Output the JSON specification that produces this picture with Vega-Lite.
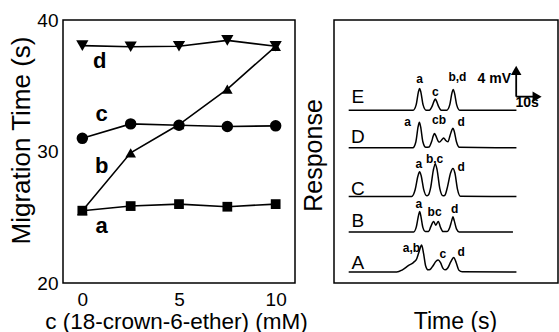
{
  "$schema": "https://vega.github.io/schema/vega-lite/v6.json",
  "autosize": {"type": "none"},
  "padding": {"left": 63, "top": 20, "right": 496, "bottom": 312},
  "background": "white",
  "bounds": "flush",
  "spacing": 39,
  "resolve": {"scale": {"shape": "independent", "size": "independent"}},
  "config": {
    "font": "Liberation Sans",
    "view": {"stroke": "black", "strokeWidth": 1.5},
    "axis": {
      "labelColor": "black", "titleColor": "black",
      "labelFont": "Liberation Sans", "titleFont": "Liberation Sans",
      "grid": false, "domain": false, "tickColor": "black",
      "titleFontWeight": "normal"
    }
  },
  "hconcat": [
    {
      "width": 232,
      "height": 263,
      "data": {"values": [
        {"series": "a", "conc": 0, "time": 25.5},
        {"series": "a", "conc": 2.5, "time": 25.85},
        {"series": "a", "conc": 5, "time": 26.0},
        {"series": "a", "conc": 7.5, "time": 25.8},
        {"series": "a", "conc": 10, "time": 26.0},
        {"series": "b", "conc": 0, "time": 25.5},
        {"series": "b", "conc": 2.5, "time": 29.9},
        {"series": "b", "conc": 5, "time": 32.05},
        {"series": "b", "conc": 7.5, "time": 34.75},
        {"series": "b", "conc": 10, "time": 38.0},
        {"series": "c", "conc": 0, "time": 31.0},
        {"series": "c", "conc": 2.5, "time": 32.1},
        {"series": "c", "conc": 5, "time": 32.0},
        {"series": "c", "conc": 7.5, "time": 31.9},
        {"series": "c", "conc": 10, "time": 31.95},
        {"series": "d", "conc": 0, "time": 38.05},
        {"series": "d", "conc": 2.5, "time": 37.97},
        {"series": "d", "conc": 5, "time": 38.0},
        {"series": "d", "conc": 7.5, "time": 38.45},
        {"series": "d", "conc": 10, "time": 38.0}
      ]},
      "layer": [
        {
          "mark": {"type": "line", "color": "black", "strokeWidth": 1.6},
          "encoding": {
            "x": {"field": "conc", "type": "quantitative", "scale": {"domain": [-1, 11]},
              "axis": {"title": "c (18-crown-6-ether) (mM)", "values": [0, 2.5, 5, 7.5, 10],
                "format": "d", "labelExpr": "datum.value % 5 === 0 ? datum.label : ''",
                "labelFontSize": 19, "labelPadding": 7, "tickSize": 0,
                "titleFontSize": 22.5, "titleX": 113, "titleY": 27, "titleBaseline": "top"}},
            "y": {"field": "time", "type": "quantitative", "scale": {"domain": [20, 40]},
              "axis": {"title": "Migration Time (s)", "values": [20, 25, 30, 35, 40],
                "labelExpr": "datum.value % 10 === 0 ? datum.label : ''",
                "labelFontSize": 19, "labelPadding": 5, "tickSize": 0,
                "titleFontSize": 26, "titleX": -29, "titleY": 120}},
            "detail": {"field": "series"}
          }
        },
        {
          "mark": {"type": "point", "filled": true, "color": "black", "opacity": 1},
          "encoding": {
            "x": {"field": "conc", "type": "quantitative"},
            "y": {"field": "time", "type": "quantitative"},
            "shape": {"field": "series", "type": "nominal",
              "scale": {"domain": ["a", "b", "c", "d"], "range": ["square", "triangle-up", "circle", "triangle-down"]},
              "legend": null},
            "size": {"field": "series", "type": "nominal",
              "scale": {"domain": ["a", "b", "c", "d"], "range": [95, 150, 90, 135]},
              "legend": null}
          }
        },
        {
          "data": {"values": [
            {"label": "a", "conc": 1.0, "time": 24.3},
            {"label": "b", "conc": 1.0, "time": 28.9},
            {"label": "c", "conc": 1.0, "time": 32.85},
            {"label": "d", "conc": 0.9, "time": 36.9}
          ]},
          "mark": {"type": "text", "fontSize": 22, "fontWeight": "bold", "color": "black", "baseline": "middle", "align": "center"},
          "encoding": {
            "x": {"field": "conc", "type": "quantitative"},
            "y": {"field": "time", "type": "quantitative"},
            "text": {"field": "label"}
          }
        }
      ]
    },
    {
      "width": 224,
      "height": 263,
      "layer": [
        {
          "data": {"values": [
            {"trace": "E", "t": 5.9, "r": 23},
            {"trace": "E", "t": 31.8, "r": 23},
            {"trace": "E", "t": 33.0, "r": 23.7},
            {"trace": "E", "t": 33.9, "r": 25.4},
            {"trace": "E", "t": 34.4, "r": 25.9},
            {"trace": "E", "t": 34.9, "r": 25.4},
            {"trace": "E", "t": 35.8, "r": 23.7},
            {"trace": "E", "t": 37.0, "r": 23.0},
            {"trace": "E", "t": 38.3, "r": 23.0},
            {"trace": "E", "t": 39.4, "r": 23.5},
            {"trace": "E", "t": 40.2, "r": 24.2},
            {"trace": "E", "t": 40.7, "r": 24.5},
            {"trace": "E", "t": 41.2, "r": 24.2},
            {"trace": "E", "t": 42.0, "r": 23.5},
            {"trace": "E", "t": 43.1, "r": 23.0},
            {"trace": "E", "t": 45.3, "r": 23.0},
            {"trace": "E", "t": 46.5, "r": 23.7},
            {"trace": "E", "t": 47.4, "r": 25.3},
            {"trace": "E", "t": 47.9, "r": 25.75},
            {"trace": "E", "t": 48.4, "r": 25.3},
            {"trace": "E", "t": 49.3, "r": 23.7},
            {"trace": "E", "t": 50.5, "r": 23.0},
            {"trace": "E", "t": 73.3, "r": 23.0},
            {"trace": "D", "t": 5.9, "r": 18},
            {"trace": "D", "t": 31.7, "r": 18},
            {"trace": "D", "t": 32.9, "r": 18.8},
            {"trace": "D", "t": 33.8, "r": 20.8},
            {"trace": "D", "t": 34.3, "r": 21.4},
            {"trace": "D", "t": 34.8, "r": 20.8},
            {"trace": "D", "t": 35.7, "r": 18.8},
            {"trace": "D", "t": 36.9, "r": 18.05},
            {"trace": "D", "t": 38.2, "r": 18.1},
            {"trace": "D", "t": 39.3, "r": 18.9},
            {"trace": "D", "t": 39.9, "r": 19.6},
            {"trace": "D", "t": 40.4, "r": 19.9},
            {"trace": "D", "t": 40.9, "r": 19.6},
            {"trace": "D", "t": 42.0, "r": 18.8},
            {"trace": "D", "t": 42.4, "r": 18.75},
            {"trace": "D", "t": 43.4, "r": 19.1},
            {"trace": "D", "t": 44.1, "r": 19.3},
            {"trace": "D", "t": 44.8, "r": 19.0},
            {"trace": "D", "t": 45.8, "r": 18.8},
            {"trace": "D", "t": 46.6, "r": 19.6},
            {"trace": "D", "t": 47.3, "r": 20.3},
            {"trace": "D", "t": 47.8, "r": 20.6},
            {"trace": "D", "t": 48.3, "r": 20.2},
            {"trace": "D", "t": 49.2, "r": 18.8},
            {"trace": "D", "t": 50.4, "r": 18.05},
            {"trace": "D", "t": 73.3, "r": 18},
            {"trace": "C", "t": 5.9, "r": 11.5},
            {"trace": "C", "t": 31.2, "r": 11.5},
            {"trace": "C", "t": 32.6, "r": 12.4},
            {"trace": "C", "t": 33.7, "r": 14.2},
            {"trace": "C", "t": 34.4, "r": 14.8},
            {"trace": "C", "t": 35.0, "r": 14.3},
            {"trace": "C", "t": 36.0, "r": 12.5},
            {"trace": "C", "t": 37.3, "r": 11.6},
            {"trace": "C", "t": 37.9, "r": 11.7},
            {"trace": "C", "t": 38.9, "r": 12.8},
            {"trace": "C", "t": 39.9, "r": 15.0},
            {"trace": "C", "t": 40.7, "r": 15.85},
            {"trace": "C", "t": 41.4, "r": 15.1},
            {"trace": "C", "t": 42.5, "r": 12.6},
            {"trace": "C", "t": 43.8, "r": 11.6},
            {"trace": "C", "t": 44.6, "r": 11.7},
            {"trace": "C", "t": 45.6, "r": 12.8},
            {"trace": "C", "t": 46.8, "r": 14.6},
            {"trace": "C", "t": 47.8, "r": 15.25},
            {"trace": "C", "t": 48.6, "r": 14.6},
            {"trace": "C", "t": 49.6, "r": 12.5},
            {"trace": "C", "t": 50.8, "r": 11.55},
            {"trace": "C", "t": 73.3, "r": 11.5},
            {"trace": "B", "t": 5.9, "r": 6.8},
            {"trace": "B", "t": 32.0, "r": 6.8},
            {"trace": "B", "t": 33.1, "r": 7.5},
            {"trace": "B", "t": 33.9, "r": 8.9},
            {"trace": "B", "t": 34.4, "r": 9.5},
            {"trace": "B", "t": 34.9, "r": 8.9},
            {"trace": "B", "t": 35.7, "r": 7.4},
            {"trace": "B", "t": 36.7, "r": 6.85},
            {"trace": "B", "t": 38.0, "r": 6.85},
            {"trace": "B", "t": 38.9, "r": 7.5},
            {"trace": "B", "t": 40.0, "r": 8.2},
            {"trace": "B", "t": 40.9, "r": 7.7},
            {"trace": "B", "t": 41.9, "r": 8.2},
            {"trace": "B", "t": 42.8, "r": 7.4},
            {"trace": "B", "t": 43.8, "r": 6.85},
            {"trace": "B", "t": 45.4, "r": 6.85},
            {"trace": "B", "t": 46.5, "r": 7.4},
            {"trace": "B", "t": 47.3, "r": 8.3},
            {"trace": "B", "t": 47.8, "r": 8.8},
            {"trace": "B", "t": 48.3, "r": 8.3},
            {"trace": "B", "t": 49.2, "r": 7.2},
            {"trace": "B", "t": 50.3, "r": 6.8},
            {"trace": "B", "t": 71.9, "r": 6.8},
            {"trace": "A", "t": 5.9, "r": 1.45},
            {"trace": "A", "t": 25.2, "r": 1.45},
            {"trace": "A", "t": 27.5, "r": 1.75},
            {"trace": "A", "t": 30.0, "r": 2.35},
            {"trace": "A", "t": 32.0, "r": 2.75},
            {"trace": "A", "t": 33.2, "r": 3.2},
            {"trace": "A", "t": 34.3, "r": 4.3},
            {"trace": "A", "t": 35.2, "r": 5.05},
            {"trace": "A", "t": 36.0, "r": 3.9},
            {"trace": "A", "t": 36.8, "r": 2.3},
            {"trace": "A", "t": 37.8, "r": 1.75},
            {"trace": "A", "t": 38.6, "r": 1.8},
            {"trace": "A", "t": 39.8, "r": 2.3},
            {"trace": "A", "t": 41.0, "r": 2.9},
            {"trace": "A", "t": 41.9, "r": 3.05},
            {"trace": "A", "t": 42.8, "r": 2.7},
            {"trace": "A", "t": 43.8, "r": 1.95},
            {"trace": "A", "t": 44.6, "r": 1.75},
            {"trace": "A", "t": 45.7, "r": 2.0},
            {"trace": "A", "t": 46.9, "r": 2.8},
            {"trace": "A", "t": 48.1, "r": 3.4},
            {"trace": "A", "t": 49.1, "r": 2.7},
            {"trace": "A", "t": 50.2, "r": 1.7},
            {"trace": "A", "t": 51.5, "r": 1.5},
            {"trace": "A", "t": 73.3, "r": 1.45}
          ]},
          "mark": {"type": "line", "color": "black", "strokeWidth": 1.5, "interpolate": "monotone"},
          "encoding": {
            "x": {"field": "t", "type": "quantitative", "scale": {"domain": [0, 83]},
              "axis": {"title": "Time (s)", "labels": false, "ticks": false,
                "titleFontSize": 23, "titleX": 121, "titleY": 27, "titleBaseline": "top"}},
            "y": {"field": "r", "type": "quantitative", "scale": {"domain": [0, 30.94]},
              "axis": {"title": "Response", "labels": false, "ticks": false,
                "titleFontSize": 25, "titleX": -8, "titleY": 135}},
            "detail": {"field": "trace"}
          }
        },
        {
          "data": {"values": [
            {"label": "E", "t": 9.6, "r": 24.8},
            {"label": "D", "t": 9.6, "r": 19.4},
            {"label": "C", "t": 9.6, "r": 12.5},
            {"label": "B", "t": 9.6, "r": 8.2},
            {"label": "A", "t": 9.6, "r": 2.7}
          ]},
          "mark": {"type": "text", "fontSize": 19, "color": "black", "baseline": "middle", "align": "center"},
          "encoding": {
            "x": {"field": "t", "type": "quantitative"},
            "y": {"field": "r", "type": "quantitative"},
            "text": {"field": "label"}
          }
        },
        {
          "data": {"values": [
            {"label": "a", "t": 34.4, "r": 27.1},
            {"label": "c", "t": 40.7, "r": 25.4},
            {"label": "b,d", "t": 49.6, "r": 27.4},
            {"label": "a", "t": 29.6, "r": 21.4},
            {"label": "cb", "t": 42.2, "r": 21.7},
            {"label": "d", "t": 51.1, "r": 21.4},
            {"label": "a", "t": 34.1, "r": 15.9},
            {"label": "b,c", "t": 40.4, "r": 16.5},
            {"label": "d", "t": 51.1, "r": 15.4},
            {"label": "a", "t": 34.1, "r": 10.5},
            {"label": "bc", "t": 40.4, "r": 9.4},
            {"label": "d", "t": 48.5, "r": 9.8},
            {"label": "a,b", "t": 31.1, "r": 4.7},
            {"label": "c", "t": 43.7, "r": 3.9},
            {"label": "d", "t": 51.1, "r": 4.1}
          ]},
          "mark": {"type": "text", "fontSize": 12, "fontWeight": "bold", "color": "black", "baseline": "middle", "align": "center"},
          "encoding": {
            "x": {"field": "t", "type": "quantitative"},
            "y": {"field": "r", "type": "quantitative"},
            "text": {"field": "label"}
          }
        },
        {
          "data": {"values": [
            {"t": 73.2, "t2": 73.2, "r": 24.8, "r2": 28.2},
            {"t": 73.2, "t2": 81.0, "r": 24.8, "r2": 24.8}
          ]},
          "mark": {"type": "rule", "color": "black", "strokeWidth": 1.8, "clip": false},
          "encoding": {
            "x": {"field": "t", "type": "quantitative"},
            "x2": {"field": "t2"},
            "y": {"field": "r", "type": "quantitative"},
            "y2": {"field": "r2"}
          }
        },
        {
          "data": {"values": [{"t": 73.2, "r": 28.3}]},
          "mark": {"type": "point", "shape": "triangle-up", "filled": true, "color": "black", "opacity": 1, "size": 110, "clip": false},
          "encoding": {
            "x": {"field": "t", "type": "quantitative"},
            "y": {"field": "r", "type": "quantitative"}
          }
        },
        {
          "data": {"values": [{"t": 81.6, "r": 24.8}]},
          "mark": {"type": "point", "shape": "triangle-right", "filled": true, "color": "black", "opacity": 1, "size": 110, "clip": false},
          "encoding": {
            "x": {"field": "t", "type": "quantitative"},
            "y": {"field": "r", "type": "quantitative"}
          }
        },
        {
          "data": {"values": [
            {"label": "4 mV", "t": 64.4, "r": 27.1},
            {"label": "10s", "t": 77.6, "r": 23.9}
          ]},
          "mark": {"type": "text", "fontSize": 14, "fontWeight": "bold", "color": "black", "baseline": "middle", "align": "center"},
          "encoding": {
            "x": {"field": "t", "type": "quantitative"},
            "y": {"field": "r", "type": "quantitative"},
            "text": {"field": "label"}
          }
        }
      ]
    }
  ]
}
